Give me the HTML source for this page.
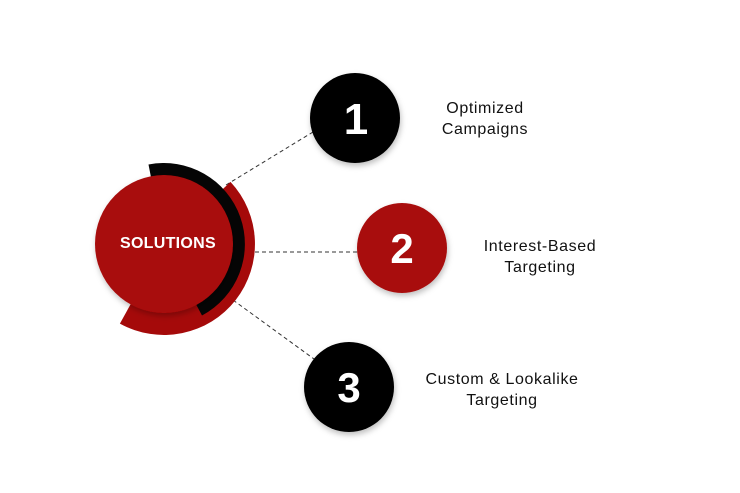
<!DOCTYPE html>
<html><head><meta charset="utf-8"><style>
html,body{margin:0;padding:0;background:#fff;}
svg{display:block;}
text{font-family:"Liberation Sans",sans-serif;}
</style></head><body>
<svg width="740" height="493" viewBox="0 0 740 493" xmlns="http://www.w3.org/2000/svg">
<defs>
<filter id="sh" x="-30%" y="-30%" width="160%" height="160%">
<feDropShadow dx="1" dy="3" stdDeviation="3" flood-color="#000" flood-opacity="0.25"/>
</filter>
</defs>
<g stroke="#333" stroke-width="1" stroke-dasharray="4,3" fill="none">
<line x1="226" y1="185" x2="313" y2="132"/>
<line x1="255" y1="252" x2="358" y2="252"/>
<line x1="233" y1="300" x2="314" y2="359"/>
</g>
<path d="M164,244 L230.5,181.9 A91,91 0 0 1 119.9,323.6 Z" fill="#a50a0a"/>
<path d="M164,244 L148.5,164.5 A81,81 0 0 1 202,315.5 Z" fill="#050505"/>
<circle cx="164" cy="244" r="69" fill="#a80a0a" filter="url(#sh)"/>
<text x="168" y="248" font-size="16" font-weight="bold" fill="#fff" text-anchor="middle" letter-spacing="0.3">SOLUTIONS</text>

<circle cx="355" cy="118" r="45" fill="#030303" filter="url(#sh)"/>
<text x="356" y="134" font-size="44" font-weight="bold" fill="#fff" text-anchor="middle">1</text>
<circle cx="402" cy="248" r="45" fill="#a80a0a" filter="url(#sh)"/>
<text x="402" y="263" font-size="42" font-weight="bold" fill="#fff" text-anchor="middle">2</text>
<circle cx="349" cy="387" r="45" fill="#030303" filter="url(#sh)"/>
<text x="349" y="402" font-size="42" font-weight="bold" fill="#fff" text-anchor="middle">3</text>

<g font-size="16" fill="#111" text-anchor="middle" letter-spacing="0.6">
<text x="485" y="113">Optimized</text>
<text x="485" y="134">Campaigns</text>
<text x="540" y="251">Interest-Based</text>
<text x="540" y="272">Targeting</text>
<text x="502" y="384">Custom &amp; Lookalike</text>
<text x="502" y="405">Targeting</text>
</g>
</svg>
</body></html>
